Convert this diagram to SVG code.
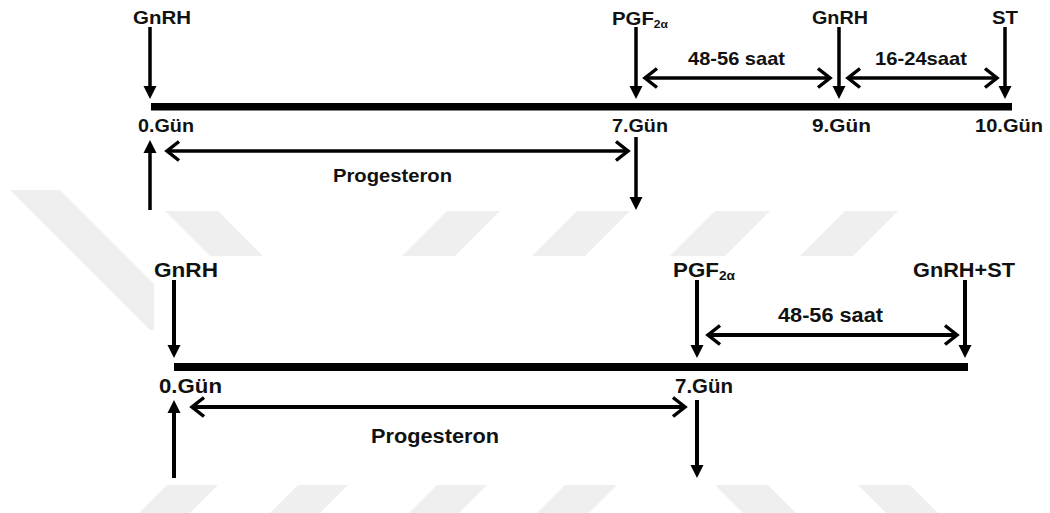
<svg xmlns="http://www.w3.org/2000/svg" width="1050" height="513" viewBox="0 0 1050 513">
<style>
.t{font-family:"Liberation Sans",Arial,sans-serif;font-weight:bold;fill:#111}
.t1{font-size:18.5px}
.t2{font-size:19.5px}
.sub1{font-size:11px}
.sub2{font-size:12px}
.ln1{stroke:#000;stroke-width:3.5;fill:none}
.ln2{stroke:#000;stroke-width:4;fill:none}
.wm{fill:#efefef}
</style>
<defs>
<marker id="head" markerUnits="userSpaceOnUse" markerWidth="14" markerHeight="14" refX="3" refY="6.5" orient="auto" overflow="visible">
<path d="M0,0 L13,6.5 L0,13 z" fill="#000"/>
</marker>
<marker id="chev" markerUnits="userSpaceOnUse" markerWidth="20" markerHeight="22" refX="15" refY="11" orient="auto-start-reverse" overflow="visible">
<path d="M3,1.5 L15,11 L3,20.5" fill="none" stroke="#000" stroke-width="3.5" stroke-linejoin="miter"/>
</marker>
</defs>
<rect width="1050" height="513" fill="#fff"/>
<g id="watermark">
<polygon class="wm" points="10,190 60,190 200,330 150,330"/>
<polygon class="wm" points="165,211 218,211 300,293 247,293"/>
<polygon class="wm" points="447,211 500,211 455,256 402,256"/>
<polygon class="wm" points="577,211 630,211 585,256 532,256"/>
<polygon class="wm" points="715,211 770,211 725,256 670,256"/>
<polygon class="wm" points="845,211 898,211 853,256 800,256"/>
<polygon class="wm" points="167,485 218,485 190,513 139,513"/>
<polygon class="wm" points="298,485 348,485 320,513 270,513"/>
<polygon class="wm" points="437,485 487,485 459,513 409,513"/>
<polygon class="wm" points="565,485 617,485 589,513 537,513"/>
<polygon class="wm" points="715,485 768,485 796,513 743,513"/>
<polygon class="wm" points="858,485 910,485 938,513 886,513"/>
</g>
<rect x="148" y="0" width="902" height="211" fill="#fff"/>
<rect x="154" y="256" width="896" height="229" fill="#fff"/>

<g id="timeline1">
<rect x="151" y="103" width="861" height="7.5" fill="#000"/>
</g>
<g id="timeline2">
<rect x="174" y="363" width="794" height="8" fill="#000"/>
</g>

<g id="connectors">
<line class="ln1" x1="150" y1="27" x2="150" y2="89" marker-end="url(#head)"/>
<line class="ln1" x1="636" y1="27" x2="636" y2="89" marker-end="url(#head)"/>
<line class="ln1" x1="839" y1="27" x2="839" y2="89" marker-end="url(#head)"/>
<line class="ln1" x1="1005" y1="27" x2="1005" y2="89" marker-end="url(#head)"/>
<line class="ln1" x1="645" y1="78" x2="830" y2="78" marker-start="url(#chev)" marker-end="url(#chev)"/>
<line class="ln1" x1="848" y1="78" x2="997" y2="78" marker-start="url(#chev)" marker-end="url(#chev)"/>
<line class="ln1" x1="167" y1="151" x2="628" y2="151" marker-start="url(#chev)" marker-end="url(#chev)"/>
<line class="ln1" x1="150" y1="210" x2="150" y2="150" marker-end="url(#head)"/>
<line class="ln1" x1="636" y1="137" x2="636" y2="200" marker-end="url(#head)"/>

<line class="ln2" x1="174" y1="280" x2="174" y2="348" marker-end="url(#head)"/>
<line class="ln2" x1="697" y1="280" x2="697" y2="348" marker-end="url(#head)"/>
<line class="ln2" x1="965" y1="280" x2="965" y2="348" marker-end="url(#head)"/>
<line class="ln2" x1="708" y1="335" x2="957" y2="335" marker-start="url(#chev)" marker-end="url(#chev)"/>
<line class="ln2" x1="174" y1="478" x2="174" y2="410" marker-end="url(#head)"/>
<line class="ln2" x1="192" y1="407" x2="685" y2="407" marker-start="url(#chev)" marker-end="url(#chev)"/>
<line class="ln2" x1="697" y1="400" x2="697" y2="468" marker-end="url(#head)"/>
</g>

<g id="n-gnrh-1"><text class="t t1" x="133" y="24" textLength="58" lengthAdjust="spacingAndGlyphs">GnRH</text></g>
<g id="n-pgf-1"><text class="t t1" x="612" y="25" textLength="56" lengthAdjust="spacingAndGlyphs">PGF<tspan class="sub1" dy="3">2α</tspan></text></g>
<g id="n-gnrh-2"><text class="t t1" x="812" y="24" textLength="56" lengthAdjust="spacingAndGlyphs">GnRH</text></g>
<g id="n-st-1"><text class="t t1" x="992" y="24" textLength="26" lengthAdjust="spacingAndGlyphs">ST</text></g>
<g id="n-4856-1"><text class="t t1" x="688" y="65" textLength="97" lengthAdjust="spacingAndGlyphs">48-56 saat</text></g>
<g id="n-1624-1"><text class="t t1" x="875" y="65" textLength="92" lengthAdjust="spacingAndGlyphs">16-24saat</text></g>
<g id="n-d0-1"><text class="t t1" x="138" y="132" textLength="56" lengthAdjust="spacingAndGlyphs">0.Gün</text></g>
<g id="n-d7-1"><text class="t t1" x="612" y="132" textLength="56" lengthAdjust="spacingAndGlyphs">7.Gün</text></g>
<g id="n-d9-1"><text class="t t1" x="812" y="132" textLength="59" lengthAdjust="spacingAndGlyphs">9.Gün</text></g>
<g id="n-d10-1"><text class="t t1" x="975" y="132" textLength="68" lengthAdjust="spacingAndGlyphs">10.Gün</text></g>
<g id="n-prog-1"><text class="t t1" x="333" y="182" textLength="119" lengthAdjust="spacingAndGlyphs">Progesteron</text></g>

<g id="n-gnrh-3"><text class="t t2" x="154" y="277" textLength="64" lengthAdjust="spacingAndGlyphs">GnRH</text></g>
<g id="n-pgf-2"><text class="t t2" x="673" y="277" textLength="62" lengthAdjust="spacingAndGlyphs">PGF<tspan class="sub2" dy="3">2α</tspan></text></g>
<g id="n-gnrhst-2"><text class="t t2" x="913" y="277" textLength="102" lengthAdjust="spacingAndGlyphs">GnRH+ST</text></g>
<g id="n-4856-2"><text class="t t2" x="778" y="322" textLength="105" lengthAdjust="spacingAndGlyphs">48-56 saat</text></g>
<g id="n-d0-2"><text class="t t2" x="159" y="393" textLength="63" lengthAdjust="spacingAndGlyphs">0.Gün</text></g>
<g id="n-d7-2"><text class="t t2" x="675" y="393" textLength="58" lengthAdjust="spacingAndGlyphs">7.Gün</text></g>
<g id="n-prog-2"><text class="t t2" x="371" y="443" textLength="128" lengthAdjust="spacingAndGlyphs">Progesteron</text></g>
</svg>
